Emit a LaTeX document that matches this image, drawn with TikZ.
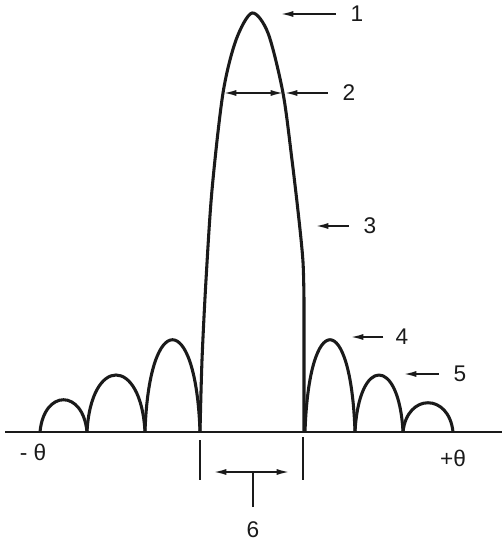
\documentclass[tikz,border=0pt]{standalone}
\usepackage{fontspec}
\setmainfont{Liberation Sans}
\usetikzlibrary{arrows.meta, calc}
\definecolor{inkdark}{HTML}{1A1A1A}

\begin{document}
\begin{tikzpicture}[x=0.75pt, y=-0.75pt,
  lobe/.style={line width=2.3pt, inkdark, line join=round},
  axisline/.style={line width=1.6pt, inkdark},
  lead/.style={line width=1.5pt, inkdark, -{Latex[length=10pt,width=4.5pt]}},
  dim/.style={line width=1.5pt, inkdark, {Latex[length=10pt,width=4.5pt]}-{Latex[length=10pt,width=4.5pt]}},
  lbl/.style={font=\fontsize{17}{20}\selectfont, text=inkdark, inner sep=11pt}]
  \useasboundingbox (0,0) rectangle (502,546);

  % Axis and ticks
  \draw[axisline] (5,432) -- (502,432);
  \draw[axisline] (200,440) -- (200,480);
  \draw[axisline] (303,437) -- (303,480);
  \node[lbl, inner sep=0pt] (mtheta) at (33,452) {- θ};
  \node[lbl, inner sep=0pt] (ptheta) at (453,458) {+θ};

  % Main lobe
  \draw[lobe] plot[smooth, tension=0.5] coordinates {(200,432) (202,360) (206,280)
    (212,190) (223,93) (236,40) (252,13) (268,33) (283,93) (292,160) (299,220)
    (303,262) (304,300)} -- (304,432);

  % Side lobes
  \foreach \a/\b/\c in {40/87/389, 87/145/356, 145/200/309,
                        305/355/309, 355/403/356, 403/453/393}
    \draw[lobe] (\a,432) .. controls (\a+4,\c) and (\b-4,\c) .. (\b,432);

  % Labels
  \coordinate (tip1) at (280,14);
  \coordinate (w2l) at (223,93);
  \coordinate (w2r) at (284,93);
  \coordinate (tip3) at (315,226);
  \coordinate (tip4) at (350,337);
  \coordinate (tip5) at (403,374);
  \coordinate (w6l) at (213,472);
  \coordinate (w6r) at (290,472);
  \coordinate (w6m) at (253,472);

  \node[lbl] (n1) at (357,14) {1};
  \node[lbl] (n2) at (349,93) {2};
  \node[lbl] (n3) at (370,226) {3};
  \node[lbl, inner sep=9pt] (n4) at (402,337) {4};
  \node[lbl] (n5) at (460,374) {5};
  \node[lbl] (n6) at (253,530) {6};

  \draw[lead] (n1.west) -- (tip1);
  \draw[dim] (w2l) -- (w2r);
  \draw[lead] (n2.west) -- (w2r);
  \draw[lead] (n3.west) -- (tip3);
  \draw[lead] (n4.west) -- (tip4);
  \draw[lead] (n5.west) -- (tip5);
  \draw[dim] (w6l) -- (w6r);
  \draw[line width=1.5pt, inkdark] (n6.north) -- (w6m);
\end{tikzpicture}
\end{document}
